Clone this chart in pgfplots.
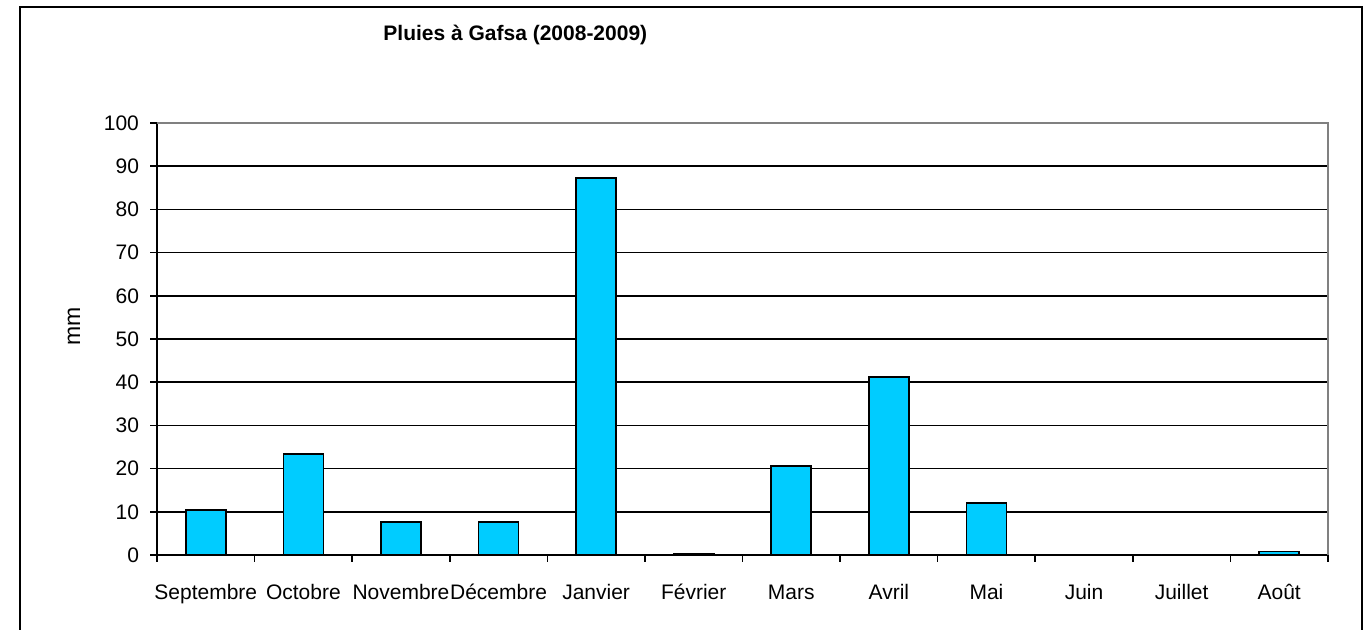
\documentclass[border=0pt]{standalone}
\usepackage{fontspec}
\setmainfont{Liberation Sans}
\usepackage{pgfplots}
\pgfplotsset{compat=1.18}
\definecolor{barcyan}{HTML}{00CCFF}

% monthly rainfall, mm
\pgfplotstableread{
x  mm
0  10.4
1  23.4
2  7.6
3  7.6
4  87.3
5  0.3
6  20.6
7  41.2
8  12.0
9  0
10 0
11 0.8
}\rain

\begin{document}
\begin{tikzpicture}
\useasboundingbox (0,0) rectangle (683.5pt,315pt);
\draw[line width=1pt] (10pt,-5pt) -- (10pt,311.5pt) -- (681pt,311.5pt) -- (681pt,-5pt);
\begin{axis}[
  at={(78.5pt,37.5pt)}, anchor=south west,
  scale only axis,
  width=585.5pt, height=216pt,
  xmin=-0.5, xmax=11.5,
  ymin=0, ymax=100,
  ytick={0,10,...,100},
  xtick={0,1,...,11},
  xticklabels={Septembre,Octobre,Novembre,Décembre,Janvier,Février,Mars,Avril,Mai,Juin,Juillet,Août},
  xtick style={draw=none},
  xticklabel style={yshift=-7pt, text height=1.6ex, text depth=0.3ex},
  extra x ticks={-0.5,0.5,...,11.5},
  extra x tick labels={},
  extra x tick style={xtick style={draw=black}},
  tick align=outside,
  major tick length=3.5pt,
  tick style={black, line width=0.8pt},
  axis x line*=bottom,
  axis y line*=left,
  axis line style={black, line width=0.9pt},
  ymajorgrids,
  grid style={black, line width=0.75pt},
  tick label style={font=\fontsize{10.5}{12}\selectfont},
  yticklabel style={xshift=-2pt},
  /pgf/number format/assume math mode=true,
  ylabel={mm},
  ylabel style={at={(axis description cs:-0.071,0.53)}, anchor=center, font=\fontsize{11.5}{13}\selectfont},
  title={Pluies à Gafsa (2008-2009)},
  title style={at={(axis description cs:0.306,1.176)}, anchor=center, font=\fontsize{10.5}{12}\selectfont\bfseries},
  clip=false,
]
\draw[gray, line width=0.7pt] (rel axis cs:0,1) -- (rel axis cs:1,1) -- (rel axis cs:1,0);
\addplot[ybar, bar width=20pt, fill=barcyan, draw=black, line width=0.8pt] table[x=x, y=mm] {\rain};
\end{axis}
\end{tikzpicture}
\end{document}
